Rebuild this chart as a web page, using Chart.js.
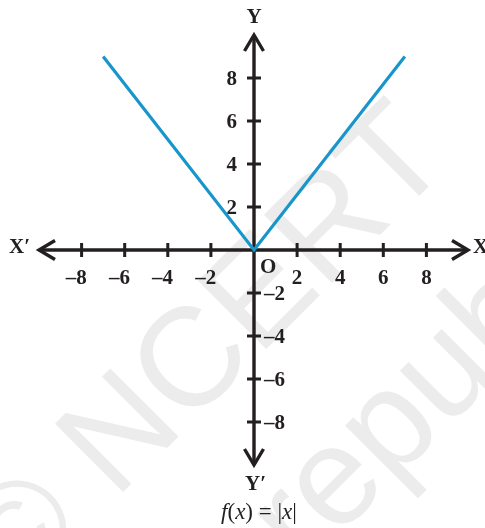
<!DOCTYPE html>
<html>
<head>
<meta charset="utf-8">
<script src="https://cdn.jsdelivr.net/npm/chart.js@4.4.1/dist/chart.umd.min.js"></script>
<style>
  html,body{margin:0;padding:0;background:#fff}
  canvas{display:block}
</style>
</head>
<body>
<canvas id="graph" width="485" height="528"></canvas>
<script>
/* ------------ data ------------ */
const X_VALUES = [-7, 0, 7];          // points of the drawn V
const Y_VALUES = [9, 0, 9];
const X_TICKS  = [-8, -6, -4, -2, 2, 4, 6, 8];
const Y_TICKS  = [-8, -6, -4, -2, 2, 4, 6, 8];
const AXIS_MIN = -10, AXIS_MAX = 10;

/* ------------ style ------------ */
const INK   = '#231f20';
const BLUE  = '#1896cb';
const SERIF = '"Liberation Serif","DejaVu Serif",serif';
const BOLD  = 'bold 21px ' + SERIF;

const dash = v => (v < 0 ? '\u2013' : '') + Math.abs(v);

/* ------------ plugins ------------ */
const watermark = {
  id: 'watermark',
  beforeDraw(chart){
    const ctx = chart.ctx;
    ctx.save();
    ctx.fillStyle = '#ececec';
    ctx.font = '140px "Liberation Sans",Arial,sans-serif';
    ctx.textBaseline = 'alphabetic';
    ctx.translate(115, 500);
    ctx.rotate(-Math.PI / 4);
    ctx.fillText('\u00a9 NCERT', -ctx.measureText('\u00a9 ').width, 0);
    ctx.fillText('republished', 128 - ctx.measureText('r').width, 184);
    ctx.restore();
  }
};

function chevron(ctx, tx, ty, dx, dy){
  const len = 16, half = 9.5;
  ctx.beginPath();
  ctx.moveTo(tx - dx*len - dy*half, ty - dy*len + dx*half);
  ctx.lineTo(tx, ty);
  ctx.lineTo(tx - dx*len + dy*half, ty - dy*len - dx*half);
  ctx.stroke();
}

const axes = {
  id: 'axes',
  beforeDatasetsDraw(chart){
    const {ctx, chartArea:a, scales:{x, y}} = chart;
    const ox = x.getPixelForValue(0), oy = y.getPixelForValue(0);
    const l = a.left + 0.5, r = a.right - 1.5, t = a.top, b = a.bottom;
    ctx.save();
    ctx.strokeStyle = INK;
    ctx.lineWidth = 3.4;
    ctx.lineCap = 'butt';
    ctx.lineJoin = 'miter';
    ctx.beginPath();
    ctx.moveTo(l + 1, oy); ctx.lineTo(r - 1, oy);
    ctx.moveTo(ox, t + 1); ctx.lineTo(ox, b - 1);
    ctx.stroke();
    chevron(ctx, l, oy, -1, 0);
    chevron(ctx, r, oy,  1, 0);
    chevron(ctx, ox, t, 0, -1);
    chevron(ctx, ox, b, 0,  1);

    ctx.lineWidth = 3;
    ctx.beginPath();
    X_TICKS.forEach(v => { const px = x.getPixelForValue(v); ctx.moveTo(px, oy - 7); ctx.lineTo(px, oy + 7); });
    Y_TICKS.forEach(v => { const py = y.getPixelForValue(v); ctx.moveTo(ox - 7, py); ctx.lineTo(ox + 7, py); });
    ctx.stroke();
    ctx.restore();
  }
};

const labels = {
  id: 'labels',
  afterDatasetsDraw(chart){
    const {ctx, scales:{x, y}} = chart;
    const ox = x.getPixelForValue(0), oy = y.getPixelForValue(0);
    ctx.save();
    ctx.fillStyle = INK;
    ctx.font = BOLD;

    /* x tick labels: digit sits under the tick, sign hangs left */
    ctx.textAlign = 'right';
    ctx.textBaseline = 'alphabetic';
    X_TICKS.forEach(v => {
      const px = x.getPixelForValue(v);
      const dw = ctx.measureText(String(Math.abs(v))).width;
      ctx.fillText(dash(v), px + dw/2, oy + 34);
    });

    /* y tick labels */
    ctx.textBaseline = 'middle';
    Y_TICKS.forEach(v => {
      const py = y.getPixelForValue(v) + 2;
      if (v > 0){ ctx.textAlign = 'right'; ctx.fillText(dash(v), ox - 17, py); }
      else      { ctx.textAlign = 'left';  ctx.fillText(dash(v), ox + 10, py); }
    });

    /* axis names */
    ctx.textBaseline = 'alphabetic';
    ctx.textAlign = 'left';
    ctx.fillText('O', ox + 6, oy + 23);
    ctx.fillText('X\u2032', 9, oy + 3);
    ctx.fillText('X', 473, oy + 3);
    ctx.textAlign = 'center';
    ctx.fillText('Y', ox, 23);
    ctx.textAlign = 'left';
    ctx.fillText('Y\u2032', ox - 9, 490);

    /* caption f(x) = |x| */
    const parts = [['f', true], ['(', false], ['x', true], [')', false], [' = |', false], ['x', true], ['|', false]];
    const fontOf = it => (it ? 'italic ' : '') + '23px ' + SERIF;
    let total = 0;
    parts.forEach(([s, it]) => { ctx.font = fontOf(it); total += ctx.measureText(s).width; });
    let cx = 259 - total/2;
    parts.forEach(([s, it]) => { ctx.font = fontOf(it); ctx.fillText(s, cx, 519); cx += ctx.measureText(s).width; });
    ctx.restore();
  }
};

/* ------------ chart ------------ */
new Chart(document.getElementById('graph'), {
  type: 'line',
  data: {
    datasets: [{
      data: X_VALUES.map((v, i) => ({x: v, y: Y_VALUES[i]})),
      borderColor: BLUE,
      borderWidth: 3.2,
      borderJoinStyle: 'miter',
      pointRadius: 0,
      tension: 0,
      fill: false,
      clip: false
    }]
  },
  options: {
    responsive: false,
    animation: false,
    devicePixelRatio: 1,
    layout: {padding: {left: 38.5, right: 15.5, top: 35, bottom: 63}},
    plugins: {legend: {display: false}, tooltip: {enabled: false}},
    scales: {
      x: {type: 'linear', min: AXIS_MIN, max: AXIS_MAX, display: false},
      y: {type: 'linear', min: AXIS_MIN, max: AXIS_MAX, display: false}
    }
  },
  plugins: [watermark, axes, labels]
});
</script>
</body>
</html>
